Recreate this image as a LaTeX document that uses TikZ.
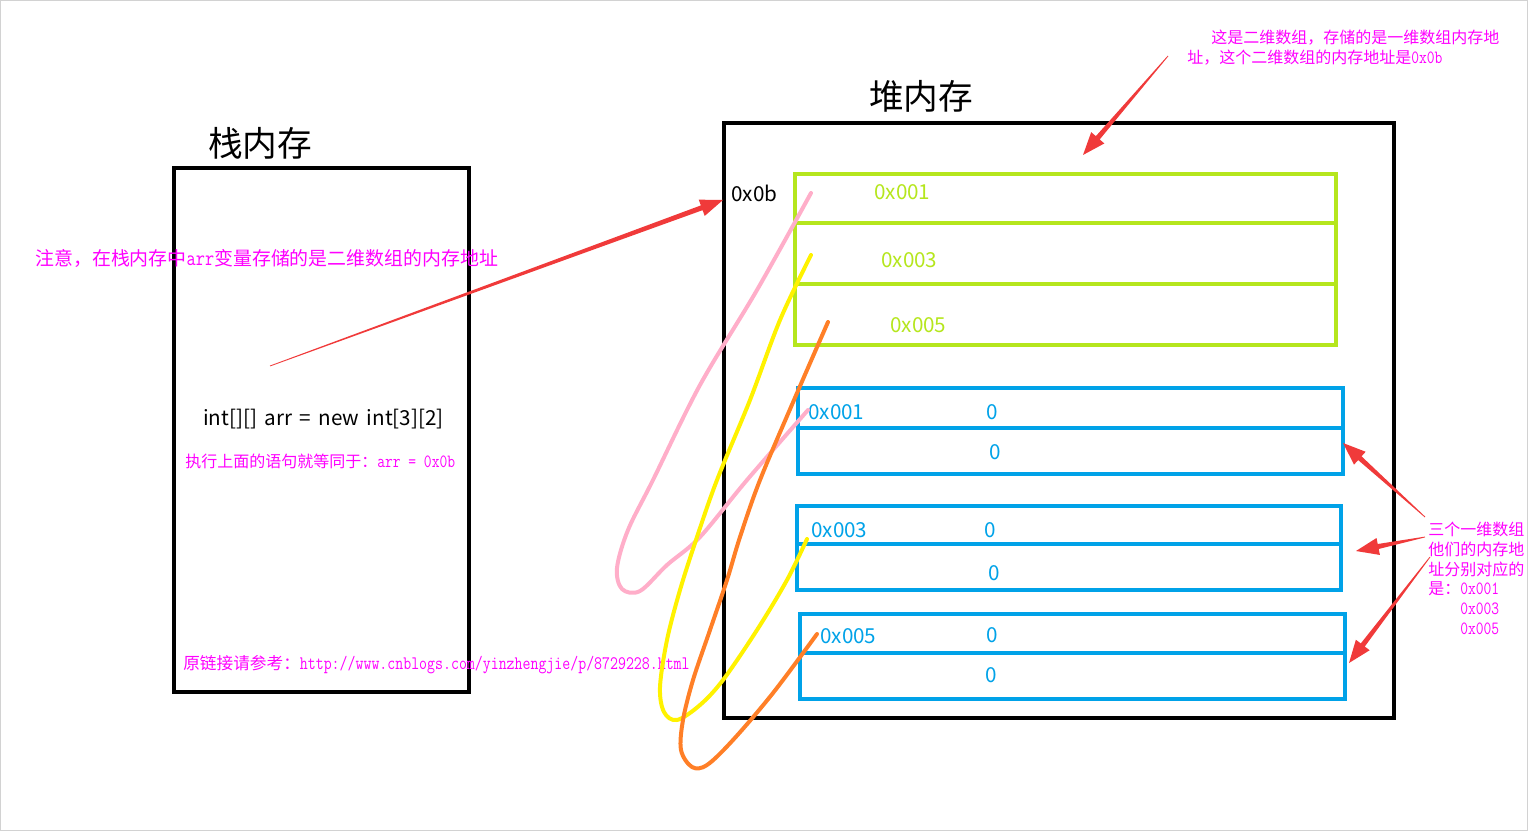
\documentclass[tikz,border=0pt]{standalone}
\usepackage{fontspec}
\newfontfamily\cjk{Noto Sans CJK SC}
\newfontfamily\cjkwide[WordSpace=1.6]{Noto Sans CJK SC}
\usepackage{graphicx}
\usepackage{tikz}
\usetikzlibrary{calc, arrows.meta}
\tikzset{>=latex}
\usepackage{xcolor}

\definecolor{notemag}{RGB}{255,0,255}
\definecolor{arrred}{RGB}{240,58,58}
\definecolor{rowgreen}{RGB}{181,230,29}
\definecolor{rowblue}{RGB}{0,162,232}
\definecolor{inkpink}{RGB}{255,174,201}
\definecolor{inkyellow}{RGB}{255,242,0}
\definecolor{inkorange}{RGB}{255,127,39}

% half-width latin inside the notes
\newcommand\lat[2][14]{{\ttfamily\fontsize{#1}{16}\selectfont\scalebox{0.81}[1]{#2}}}

% tapered red arrow, thin at #1, head at #2
\newcommand\redarrow[2]{%
  \coordinate (hb) at ($(#2)!17pt!(#1)$);
  \fill[arrred] ($(#1)!0.3pt!90:(#2)$) -- ($(hb)!1.9pt!90:(#2)$) -- ($(hb)!6.5pt!90:(#2)$)
     -- (#2) -- ($(hb)!6.5pt!-90:(#2)$) -- ($(hb)!1.9pt!-90:(#2)$) -- ($(#1)!0.3pt!-90:(#2)$) -- cycle;}

\begin{document}
\begin{tikzpicture}[x=0.75pt,y=-0.75pt,
    membox/.style={black,line width=3pt},
    greenrow/.style={rowgreen,line width=3pt},
    bluerow/.style={rowblue,line width=3.2pt},
    title/.style={font=\cjk\fontsize{26}{30}\selectfont,inner sep=0},
    val/.style={font=\cjk\fontsize{15.5}{18}\selectfont,inner sep=0},
    note/.style={text=notemag,font=\cjk\fontsize{12}{15}\selectfont,inner sep=0,anchor=west},
    ink/.style={line width=3pt,line cap=round,line join=round}
    ]

    \useasboundingbox (0,0) rectangle (1528,831);
    \draw[gray!35,line width=1pt] (0.7,0.7) rectangle (1527.3,830.3);

    %stack memory
    \node[title] (stackT) at (260,143) {栈内存};
    \draw[membox] (174,168) rectangle (469,692);
    \node[val,font=\cjkwide\fontsize{15.5}{18}\selectfont,anchor=west] (decl) at (203,419) {int[][] arr = new int[3][2]};
    \node[note] (equiv) at (185,461) {执行上面的语句就等同于：\lat{arr = 0x0b}};
    \node[note,font=\cjk\fontsize{14.2}{17}\selectfont] (warn) at (35,258)
        {注意，在栈内存中\lat[16.5]{arr}变量存储的是二维数组的内存地址};
    \node[note,font=\cjk\fontsize{12.5}{15}\selectfont] (link) at (183,665)
        {原链接请参考：\lat[14.3]{http://www.cnblogs.com/yinzhengjie/p/8729228.html}};

    %heap memory
    \node[title] (heapT) at (921,96) {堆内存};
    \draw[membox] (724,123) rectangle (1394,718);
    \node[val,anchor=west] (addr0b) at (731,193) {0x0b};

    %two dimensional array
    \draw[greenrow] (795,174) rectangle (1336,345);
    \draw[greenrow] (793,223) -- (1338,223);
    \draw[greenrow] (793,284) -- (1338,284);
    \node[val,text=rowgreen,anchor=west] (g1) at (874,192) {0x001};
    \node[val,text=rowgreen,anchor=west] (g3) at (881,260) {0x003};
    \node[val,text=rowgreen,anchor=west] (g5) at (890,325) {0x005};

    %one dimensional arrays
    \draw[bluerow] (798,388) rectangle (1343,474);
    \draw[bluerow] (796,428) -- (1345,428);
    \node[val,text=rowblue,anchor=west] (b1) at (808,412) {0x001};
    \node[val,text=rowblue] (b1a) at (992,412) {0};
    \node[val,text=rowblue] (b1b) at (995,452) {0};

    \draw[bluerow] (797,506) rectangle (1341,590);
    \draw[bluerow] (795,544) -- (1343,544);
    \node[val,text=rowblue,anchor=west] (b3) at (811,530) {0x003};
    \node[val,text=rowblue] (b3a) at (990,530) {0};
    \node[val,text=rowblue] (b3b) at (994,573) {0};

    \draw[bluerow] (800,614) rectangle (1345,699);
    \draw[bluerow] (798,653) -- (1347,653);
    \node[val,text=rowblue,anchor=west] (b5) at (820,636) {0x005};
    \node[val,text=rowblue] (b5a) at (992,635) {0};
    \node[val,text=rowblue] (b5b) at (991,675) {0};

    %hand drawn links
    \draw[ink,inkpink] plot[smooth,tension=0.55] coordinates {(811,193) (757,290) (700,385)
        (653,480) (628,530) (617,568) (622,589) (640,591) (667,565) (700,537) (747,480) (808,410)};
    \draw[ink,inkyellow] plot[smooth,tension=0.55] coordinates {(811,255) (780,320) (750,400)
        (717,480) (697,537) (680,590) (667,640) (660,687) (664,712) (677,720) (700,705)
        (723,680) (757,630) (787,580) (807,539)};
    \draw[ink,inkorange] plot[smooth,tension=0.55] coordinates {(828,322) (794,400) (760,480)
        (740,537) (727,580) (710,630) (693,680) (683,720) (681,750) (692,767) (707,765)
        (733,740) (773,693) (817,634)};

    %notes on the right
    \node[note] (heapN1) at (1211,38) {这是二维数组，存储的是一维数组内存地};
    \node[note] (heapN2) at (1187,58) {址，这个二维数组的内存地址是\lat{0x0b}};
    \node[note] (rowN1) at (1428,529) {三个一维数组};
    \node[note] (rowN2) at (1428,549) {他们的内存地};
    \node[note] (rowN3) at (1428,569) {址分别对应的};
    \node[note] (rowN4) at (1428,589) {是：\lat{0x001}};
    \node[note] (rowN5) at (1460,609) {\lat{0x003}};
    \node[note] (rowN6) at (1460,629) {\lat{0x005}};

    %red arrows
    \coordinate (arrFrom) at (270,366);
    \coordinate (arrTo) at (723,200);
    \coordinate (topFrom) at (1168,56);
    \coordinate (topTo) at (1083,155);
    \coordinate (r1From) at (1425,517);
    \coordinate (r1To) at (1343,443);
    \coordinate (r2From) at (1425,537);
    \coordinate (r2To) at (1356,551);
    \coordinate (r3From) at (1430,557);
    \coordinate (r3To) at (1349,663);
    \redarrow{arrFrom}{arrTo}
    \redarrow{topFrom}{topTo}
    \redarrow{r1From}{r1To}
    \redarrow{r2From}{r2To}
    \redarrow{r3From}{r3To}

\end{tikzpicture}
\end{document}
